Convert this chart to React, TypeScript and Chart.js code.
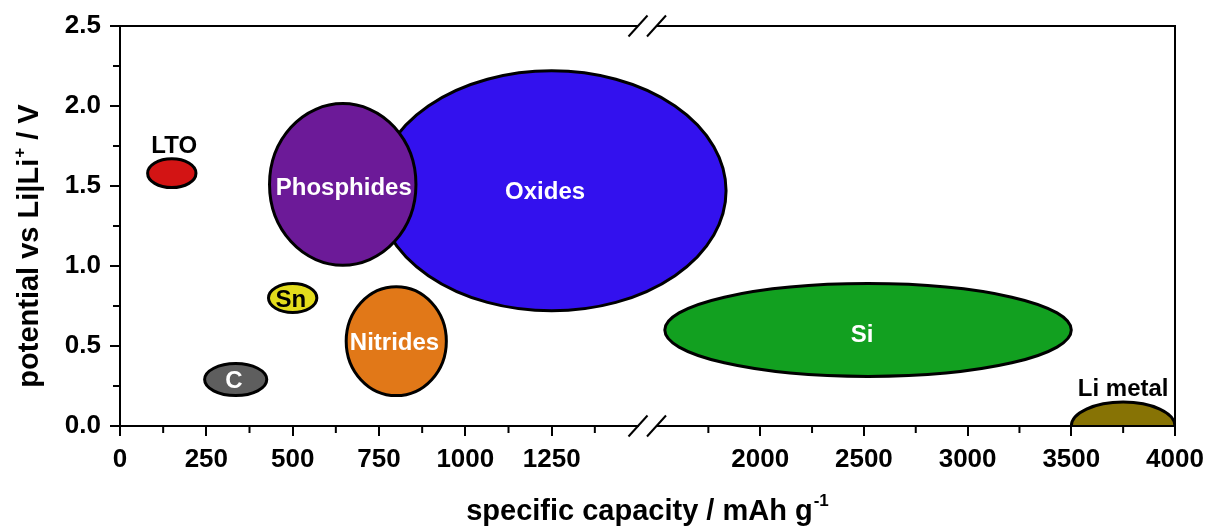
import React, { useEffect, useRef } from 'react';
import { Chart, registerables } from 'chart.js';

Chart.register(...registerables);

// ---------------- data ----------------
const materials = ['LTO', 'C', 'Sn', 'Nitrides', 'Oxides', 'Phosphides', 'Si', 'Li metal'];
const capacityCenter = [150, 335, 500, 800, 1250, 645, 2520, 3750];
const potentialCenter = [1.58, 0.29, 0.8, 0.53, 1.47, 1.51, 0.6, 0.0];
const capacityHalfRange = [70, 90, 70, 145, 505, 212, 980, 250];
const potentialHalfRange = [0.09, 0.1, 0.09, 0.34, 0.75, 0.505, 0.29, 0.15];
const capacitySegment = ['x1', 'x1', 'x1', 'x1', 'x1', 'x1', 'x2', 'x2'];
const labelCapacity = [157, 330, 495, 795, 1231, 648, 2491, 3750];
const labelPotential = [1.76, 0.29, 0.8, 0.53, 1.47, 1.5, 0.58, 0.24];

const leftSegmentRange = [0, 1500];
const rightSegmentRange = [1500, 4000];
const leftMajorStep = 250;
const rightMajorStep = 500;
const leftMinorTicks = [125, 375, 625, 875, 1125, 1375];
const rightMinorTicks = [1750, 2250, 2750, 3250, 3750];
const potentialRange = [0, 2.5];
const potentialStep = 0.5;
const potentialMinorTicks = [0.25, 0.75, 1.25, 1.75, 2.25];

const xTitleMain = 'specific capacity / mAh g';
const xTitleSup = '-1';
const yTitleMain = 'potential vs Li|Li';
const yTitleSup = '+';
const yTitleEnd = ' / V';

// ---------------- styles ----------------
const FONT = '"Liberation Sans", Arial, Helvetica, sans-serif';
const fillColors = ['#d31414', '#5e5e5e', '#e3dc1c', '#e17818', '#3311ee', '#6c1a98', '#12a020', '#877305'];
const labelColors = ['#000', '#fff', '#000', '#fff', '#fff', '#fff', '#fff', '#000'];
const TICK_FONT = { family: FONT, size: 26, weight: 'bold' as const };
const LABEL_SIZE = 24;
const TITLE_SIZE = 29;
const SUP_SIZE = 17;

const ellipsePlugin = {
  id: 'ellipses',
  beforeDatasetsDraw(chart: any) {
    const { ctx, chartArea: a } = chart;
    ctx.save();
    ctx.beginPath();
    ctx.rect(a.left, a.top, a.right - a.left, a.bottom - a.top);
    ctx.clip();
    chart.data.datasets.forEach((ds: any, i: number) => {
      const meta = chart.getDatasetMeta(i);
      const xs = chart.scales[ds.xAxisID];
      const ys = chart.scales.y;
      ds.data.forEach((pt: any, j: number) => {
        const el = meta.data[j];
        const cx = el.x;
        const cy = el.y;
        const rx = Math.abs(xs.getPixelForValue(pt.x + pt.rx) - cx);
        const ry = Math.abs(ys.getPixelForValue(pt.y + pt.ry) - cy);
        ctx.beginPath();
        ctx.ellipse(cx, cy, rx, ry, 0, 0, Math.PI * 2);
        ctx.fillStyle = ds.backgroundColor;
        ctx.fill();
        ctx.lineWidth = 3;
        ctx.strokeStyle = '#000';
        ctx.stroke();
      });
    });
    ctx.restore();
  },
  afterDatasetsDraw(chart: any) {
    const { ctx } = chart;
    ctx.save();
    ctx.font = `bold ${LABEL_SIZE}px ${FONT}`;
    ctx.textAlign = 'center';
    ctx.textBaseline = 'alphabetic';
    chart.data.datasets.forEach((ds: any) => {
      const xs = chart.scales[ds.xAxisID];
      const ys = chart.scales.y;
      ds.data.forEach((pt: any) => {
        ctx.fillStyle = ds.labelColor;
        ctx.fillText(ds.label, xs.getPixelForValue(pt.lx), ys.getPixelForValue(pt.ly) + LABEL_SIZE * 0.716 / 2);
      });
    });
    ctx.restore();
  },
};

const framePlugin = {
  id: 'frame',
  afterDraw(chart: any) {
    const { ctx, chartArea: a, scales } = chart;
    const xl = scales.x1;
    const xr = scales.x2;
    const ys = scales.y;
    ctx.save();
    ctx.strokeStyle = '#000';
    ctx.lineWidth = 2;
    const line = (x0: number, y0: number, x1: number, y1: number) => {
      ctx.beginPath();
      ctx.moveTo(x0, y0);
      ctx.lineTo(x1, y1);
      ctx.stroke();
    };
    [a.top, a.bottom].forEach((yy: number) => {
      line(a.left - 1, yy, xl.right, yy);
      line(xr.left, yy, a.right + 1, yy);
    });
    line(a.left, a.top - 1, a.left, a.bottom + 1);
    line(a.right, a.top - 1, a.right, a.bottom + 1);
    // axis break marks
    [a.top, a.bottom].forEach((yy: number) => {
      [xl.right, xr.left].forEach((bx: number) => line(bx - 9.5, yy + 10.5, bx + 9.5, yy - 10.5));
    });
    // minor ticks
    leftMinorTicks.forEach((v) => {
      const px = xl.getPixelForValue(v);
      line(px, a.bottom, px, a.bottom + 7);
    });
    rightMinorTicks.forEach((v) => {
      const px = xr.getPixelForValue(v);
      line(px, a.bottom, px, a.bottom + 7);
    });
    potentialMinorTicks.forEach((v) => {
      const py = ys.getPixelForValue(v);
      line(a.left - 7, py, a.left, py);
    });

    // axis titles
    ctx.fillStyle = '#000';
    ctx.textBaseline = 'alphabetic';
    ctx.textAlign = 'left';
    const mainFont = `bold ${TITLE_SIZE}px ${FONT}`;
    const supFont = `bold ${SUP_SIZE}px ${FONT}`;

    ctx.font = mainFont;
    const xw1 = ctx.measureText(xTitleMain).width;
    ctx.font = supFont;
    const xw2 = ctx.measureText(xTitleSup).width;
    const xStart = (a.left + a.right) / 2 - (xw1 + 1 + xw2) / 2;
    ctx.font = mainFont;
    ctx.fillText(xTitleMain, xStart, 520);
    ctx.font = supFont;
    ctx.fillText(xTitleSup, xStart + xw1 + 1, 506);

    ctx.save();
    ctx.translate(38, 246);
    ctx.rotate(-Math.PI / 2);
    ctx.font = mainFont;
    const yw1 = ctx.measureText(yTitleMain).width;
    const yw3 = ctx.measureText(yTitleEnd).width;
    ctx.font = supFont;
    const yw2 = ctx.measureText(yTitleSup).width;
    const yStart = -(yw1 + yw2 + yw3 + 1) / 2;
    ctx.font = mainFont;
    ctx.fillText(yTitleMain, yStart, 0);
    ctx.font = supFont;
    ctx.fillText(yTitleSup, yStart + yw1 + 1, -13);
    ctx.font = mainFont;
    ctx.fillText(yTitleEnd, yStart + yw1 + 1 + yw2, 0);
    ctx.restore();

    ctx.restore();
  },
};

const clearPadding = (s: any) => {
  s.paddingLeft = 0;
  s.paddingRight = 0;
  s.paddingTop = 0;
  s.paddingBottom = 0;
};

const xAxisCommon = (weight: number, stackWeight: number) => ({
  type: 'linear',
  axis: 'x',
  position: 'bottom',
  stack: 'capacity',
  stackWeight,
  weight,
  afterFit: (s: any) => {
    s.height = 100;
    clearPadding(s);
  },
  grid: { drawOnChartArea: false, drawTicks: true, tickLength: 10, color: '#000', lineWidth: 2 },
  border: { display: true, color: '#000', width: 2 },
});

export default function App() {
  const ref = useRef<HTMLCanvasElement>(null);

  useEffect(() => {
    const canvas = ref.current as HTMLCanvasElement;
    const datasets = materials.map((name, i) => ({
      type: 'scatter',
      label: name,
      xAxisID: capacitySegment[i],
      yAxisID: 'y',
      data: [
        {
          x: capacityCenter[i],
          y: potentialCenter[i],
          rx: capacityHalfRange[i],
          ry: potentialHalfRange[i],
          lx: labelCapacity[i],
          ly: labelPotential[i],
        },
      ],
      backgroundColor: fillColors[i],
      labelColor: labelColors[i],
      pointRadius: 0,
      pointHoverRadius: 0,
    }));

    const chart = new Chart(canvas, {
      type: 'scatter',
      data: { datasets } as any,
      options: {
        responsive: false,
        animation: false,
        events: [],
        layout: { padding: { left: 0, top: 26, right: 35, bottom: 0 } },
        plugins: { legend: { display: false }, tooltip: { enabled: false } },
        scales: {
          x1: {
            ...xAxisCommon(0, 518),
            min: leftSegmentRange[0],
            max: leftSegmentRange[1],
            afterBuildTicks: (s: any) => {
              s.ticks = s.ticks.filter((t: any) => t.value < leftSegmentRange[1]);
            },
            ticks: {
              stepSize: leftMajorStep,
              font: TICK_FONT,
              color: '#000',
              padding: 8,
              maxRotation: 0,
              autoSkip: false,
              callback: (v: any) => String(v),
            },
          },
          xgap: {
            type: 'linear',
            axis: 'x',
            position: 'bottom',
            stack: 'capacity',
            stackWeight: 18.5,
            weight: 1,
            min: 0,
            max: 1,
            afterFit: (s: any) => {
              s.height = 100;
              clearPadding(s);
            },
            ticks: { display: false },
            grid: { display: false },
            border: { display: false },
          },
          x2: {
            ...xAxisCommon(2, 518.5),
            min: rightSegmentRange[0],
            max: rightSegmentRange[1],
            afterBuildTicks: (s: any) => {
              s.ticks = s.ticks.filter((t: any) => t.value > rightSegmentRange[0]);
            },
            ticks: {
              stepSize: rightMajorStep,
              font: TICK_FONT,
              color: '#000',
              padding: 8,
              maxRotation: 0,
              autoSkip: false,
              callback: (v: any) => String(v),
            },
          },
          y: {
            type: 'linear',
            position: 'left',
            min: potentialRange[0],
            max: potentialRange[1],
            afterFit: (s: any) => {
              s.width = 120;
              clearPadding(s);
            },
            ticks: {
              stepSize: potentialStep,
              font: TICK_FONT,
              color: '#000',
              padding: 9,
              callback: (v: any) => Number(v).toFixed(1),
            },
            grid: { drawOnChartArea: false, drawTicks: true, tickLength: 10, color: '#000', lineWidth: 2 },
            border: { display: true, color: '#000', width: 2 },
          },
        },
      } as any,
      plugins: [ellipsePlugin, framePlugin],
    });

    return () => chart.destroy();
  }, []);

  return (
    <div style={{ position: 'fixed', left: 0, top: 0, width: 1210, height: 526, background: '#fff' }}>
      <canvas ref={ref} width={1210} height={526} style={{ display: 'block', width: 1210, height: 526 }} />
    </div>
  );
}
